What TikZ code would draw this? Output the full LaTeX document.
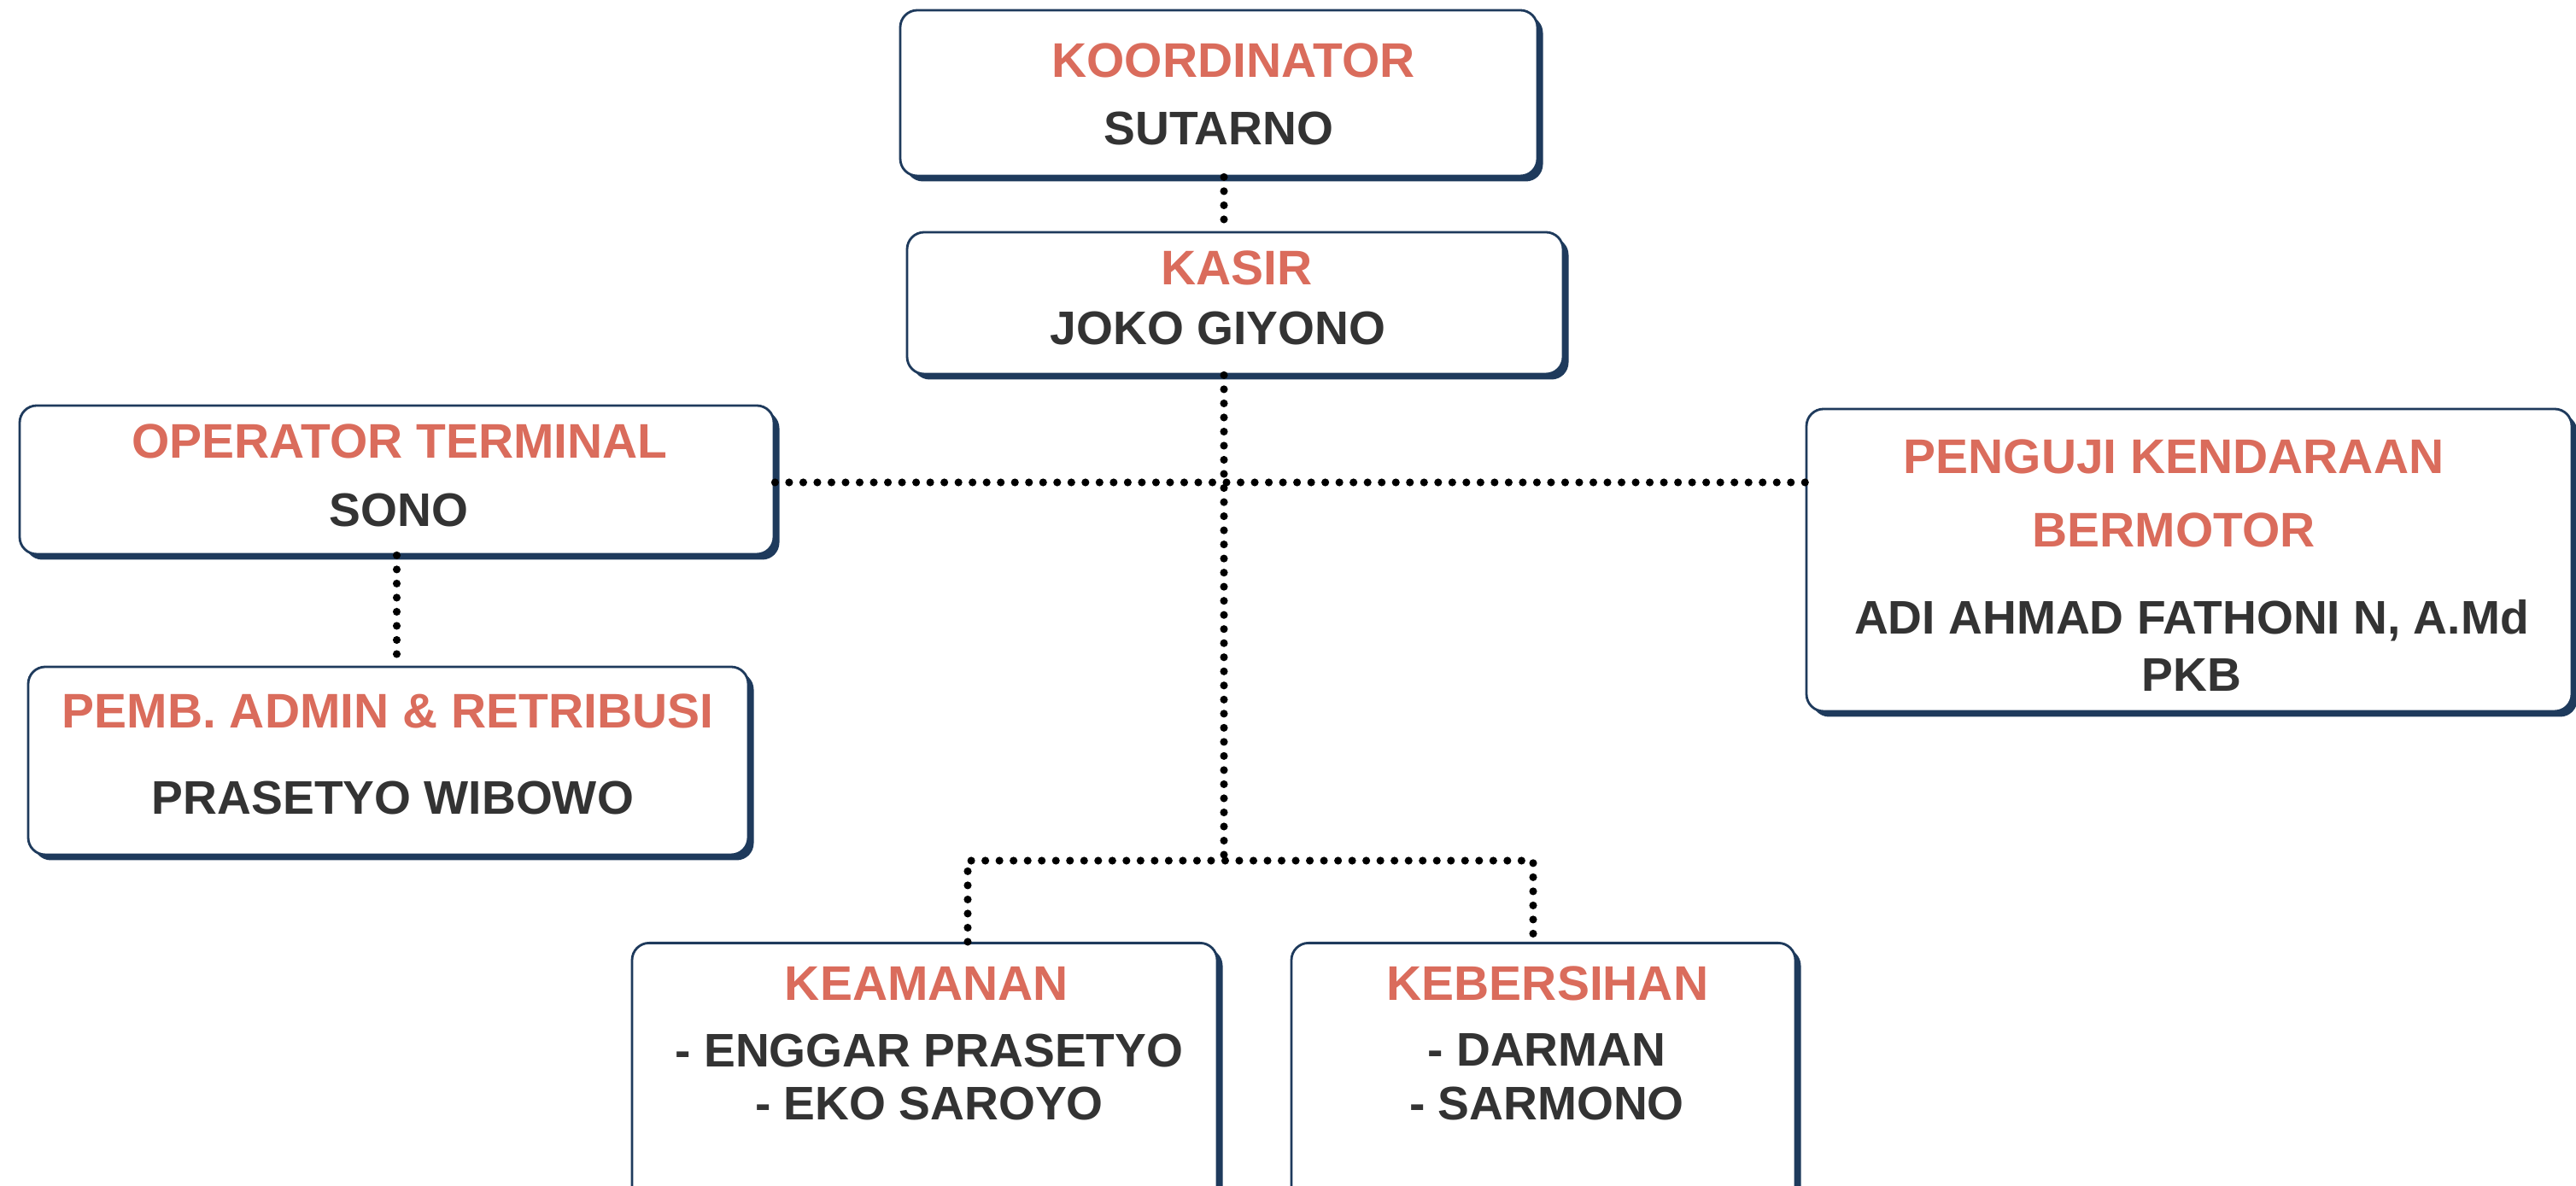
\documentclass[tikz,border=0pt]{standalone}
\usepackage{fontspec}
\setmainfont{Liberation Sans}
\usetikzlibrary{shadows}
\definecolor{navy}{HTML}{1E3A5C}
\definecolor{coral}{HTML}{DA6C5C}
\definecolor{ink}{HTML}{333333}

\begin{document}
\begin{tikzpicture}[
    unit/.style={draw=navy, line width=0.8pt, fill=white, rounded corners=0.2cm, inner sep=0pt,
      drop shadow={shadow xshift=0.065cm, shadow yshift=-0.065cm, fill=navy, opacity=1}},
    role/.style={text=coral, font=\fontsize{16.2}{24.5}\selectfont\bfseries, inner sep=0pt, align=center},
    staff/.style={text=ink, font=\fontsize{15.7}{17.9}\selectfont\bfseries, inner sep=0pt, align=center},
    link/.style={line width=2.6pt, line cap=round, dash pattern=on 0pt off 4.7pt}]
    \useasboundingbox (0,0) rectangle (30.16,13.89);

    % boxes
    \node[unit, minimum width=7.46cm, minimum height=1.94cm] (koord) at (14.27,12.80) {};
    \node[unit, minimum width=7.68cm, minimum height=1.66cm] (kasir) at (14.46,10.34) {};
    \node[unit, minimum width=8.83cm, minimum height=1.74cm] (opr) at (4.645,8.27) {};
    \node[unit, minimum width=8.43cm, minimum height=2.20cm] (pemb) at (4.545,4.98) {};
    \node[unit, minimum width=8.96cm, minimum height=3.54cm] (peng) at (25.63,7.33) {};
    \node[unit, minimum width=6.85cm, minimum height=4cm, anchor=north] (keam) at (10.825,2.86) {};
    \node[unit, minimum width=5.90cm, minimum height=4cm, anchor=north] (keber) at (18.07,2.86) {};

    % connectors
    \coordinate (hub) at (14.33,8.24);
    \coordinate (split) at (14.33,3.81);
    \coordinate (kl) at (11.33,3.81);
    \coordinate (kr) at (17.95,3.81);
    \draw[link] (koord.south -| hub) -- (kasir.north -| hub);
    \draw[link] (kasir.south -| hub) -- (split);
    \draw[link] (opr.east |- hub) -- (peng.west |- hub);
    \draw[link] (opr.south) -- (opr.south |- pemb.north);
    \draw[link] (keam.north -| kl) -- (kl) -- (kr) -- (keber.north -| kr);

    % texts
    \node[role] (koordrole) at (14.44,13.18) {KOORDINATOR};
    \node[staff] (koordname) at (14.27,12.38) {SUTARNO};
    \node[role] (kasirrole) at (14.48,10.75) {KASIR};
    \node[staff] (kasirname) at (14.26,10.04) {JOKO GIYONO};
    \node[role] (oprrole) at (4.68,8.72) {OPERATOR TERMINAL};
    \node[staff] (oprname) at (4.67,7.91) {SONO};
    \node[role] (pembrole) at (4.54,5.56) {PEMB. ADMIN \& RETRIBUSI};
    \node[staff] (pembname) at (4.60,4.54) {PRASETYO WIBOWO};
    \node[role] (pengrole) at (25.45,8.11) {PENGUJI KENDARAAN\\BERMOTOR};
    \node[staff] (pengname) at (25.66,6.33) {ADI AHMAD FATHONI N, A.Md\\[1.4pt]PKB};
    \node[role] (keamrole) at (10.85,2.37) {KEAMANAN};
    \node[staff] (keamname) at (10.88,1.275) {- ENGGAR PRASETYO\\- EKO SAROYO};
    \node[role] (keberrole) at (18.12,2.37) {KEBERSIHAN};
    \node[staff] (kebername) at (18.11,1.275) {- DARMAN\\- SARMONO};
\end{tikzpicture}
\end{document}
